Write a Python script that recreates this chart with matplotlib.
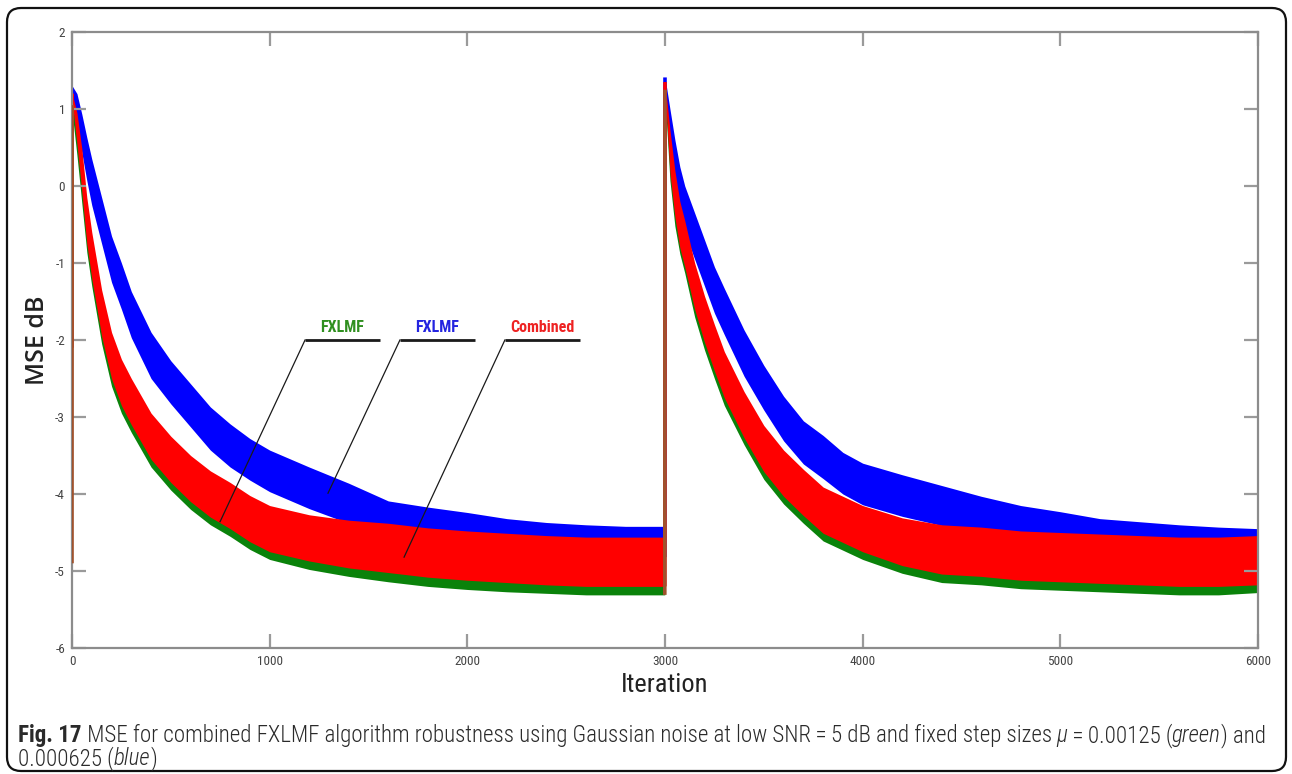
import matplotlib
matplotlib.use('Agg')
import matplotlib.pyplot as plt
import numpy as np
from matplotlib.patches import FancyBboxPatch
from matplotlib.transforms import IdentityTransform
from matplotlib import font_manager

# ---------------- data ----------------
ITERATIONS = [0, 1, 25, 50, 75, 100, 150, 200, 250, 300, 400, 500, 600, 700, 800, 900,
              1000, 1200, 1400, 1600, 1800, 2000, 2200, 2400, 2600, 2800, 2999,
              3000, 3025, 3050, 3075, 3100, 3150, 3200, 3250, 3300, 3400, 3500, 3600,
              3700, 3800, 3900, 4000, 4200, 4400, 4600, 4800, 5000, 5200, 5400, 5600,
              5800, 6000]

BLUE_MSE = [1.28, 1.25, 1.0, 0.68, 0.35, 0.05, -0.45, -0.95, -1.3, -1.67, -2.2, -2.55,
            -2.85, -3.15, -3.37, -3.55, -3.7, -3.92, -4.12, -4.33, -4.4, -4.46, -4.52,
            -4.57, -4.6, -4.62, -4.62,
            1.36, 0.7, 0.3, -0.05, -0.3, -0.65, -1.0, -1.35, -1.63, -2.17, -2.62, -3.02,
            -3.33, -3.52, -3.73, -3.87, -4.02, -4.15, -4.27, -4.38, -4.45, -4.52, -4.56,
            -4.6, -4.63, -4.65]
BLUE_SPREAD = [0.03, 0.05, 0.2, 0.25, 0.28, 0.3, 0.3, 0.3, 0.3, 0.3, 0.3, 0.28, 0.28,
               0.28, 0.28, 0.27, 0.27, 0.27, 0.26, 0.24, 0.23, 0.22, 0.2, 0.2, 0.2, 0.2,
               0.2,
               0.05, 0.3, 0.3, 0.3, 0.3, 0.3, 0.3, 0.3, 0.3, 0.3, 0.29, 0.29, 0.28, 0.28,
               0.27, 0.27, 0.27, 0.26, 0.24, 0.23, 0.22, 0.2, 0.2, 0.2, 0.2, 0.2]

GREEN_MSE = [-4.9, 1.0, 0.6, 0.05, -0.56, -1.0, -1.75, -2.3, -2.65, -2.9, -3.35, -3.65,
             -3.9, -4.1, -4.25, -4.42, -4.55, -4.68, -4.76, -4.82, -4.88, -4.92, -4.95,
             -4.97, -4.99, -4.99, -4.99,
             1.2, 0.35, -0.22, -0.58, -0.83, -1.4, -1.83, -2.2, -2.55, -3.06, -3.51,
             -3.83, -4.08, -4.31, -4.43, -4.55, -4.72, -4.83, -4.86, -4.91, -4.93, -4.95,
             -4.97, -4.99, -4.99, -4.96]
GREEN_SPREAD = [0.0, 0.05, 0.2, 0.28, 0.3, 0.3, 0.3, 0.3, 0.3, 0.3, 0.3, 0.3, 0.3, 0.3,
                0.3, 0.3, 0.3, 0.3, 0.31, 0.32, 0.32, 0.32, 0.32, 0.32, 0.32, 0.32, 0.32,
                0.05, 0.28, 0.3, 0.3, 0.3, 0.3, 0.3, 0.3, 0.3, 0.3, 0.3, 0.3, 0.3, 0.3,
                0.3, 0.3, 0.31, 0.32, 0.32, 0.32, 0.32, 0.32, 0.32, 0.32, 0.32, 0.32]

RED_MSE = [-2.1, 1.15, 0.75, 0.2, -0.45, -0.9, -1.65, -2.2, -2.55, -2.8, -3.25, -3.55,
           -3.8, -4.0, -4.15, -4.32, -4.45, -4.57, -4.65, -4.7, -4.76, -4.8, -4.83,
           -4.86, -4.88, -4.88, -4.88,
           1.3, 0.45, -0.1, -0.5, -0.75, -1.3, -1.73, -2.1, -2.45, -2.97, -3.41, -3.73,
           -3.98, -4.21, -4.33, -4.45, -4.62, -4.72, -4.75, -4.8, -4.82, -4.84, -4.86,
           -4.88, -4.88, -4.86]
RED_SPREAD = GREEN_SPREAD

X_TICKS = [0, 1000, 2000, 3000, 4000, 5000, 6000]
Y_TICKS = [-6, -5, -4, -3, -2, -1, 0, 1, 2]

LABELS = ['FXLMF', 'FXLMF', 'Combined']

# ---------------- styling ----------------
plt.rcParams['axes.unicode_minus'] = False
W, H = 1292, 774
fig = plt.figure(figsize=(W / 100, H / 100), dpi=100)
fig.patch.set_facecolor('white')

names = {f.name for f in font_manager.fontManager.ttflist}
NARROW = 'DejaVu Sans'
for cand in ['Roboto Condensed', 'Liberation Sans Narrow', 'Archivo Narrow',
             'Barlow Condensed', 'DejaVu Sans Condensed']:
    if cand in names:
        NARROW = cand
        break

ax = fig.add_axes([72 / W, 1 - 648 / H, 1186 / W, 616 / H])

C_BLUE = '#0000ff'
C_RED = '#ff0000'
C_GREEN = '#0a820a'
C_BROWN = '#a0522d'

x = np.array(ITERATIONS, dtype=float)
series = [
    (np.array(BLUE_MSE), np.array(BLUE_SPREAD), C_BLUE, C_BLUE, 2),
    (np.array(GREEN_MSE), np.array(GREEN_SPREAD), C_GREEN, C_BROWN, 3),
    (np.array(RED_MSE), np.array(RED_SPREAD), C_RED, C_RED, 2.5),
]
for i, (m, s, col, jcol, jz) in enumerate(series):
    ax.fill_between(x, m - s, m + s, color=col, lw=0, zorder=1 + i * 0.1)
for i, (m, s, col, jcol, jz) in enumerate(series):
    idx = np.where(np.diff(m) > 2.0)[0]
    for k in idx:
        ax.plot([x[k], x[k + 1]], [m[k] - s[k], m[k + 1] + s[k + 1]], color=jcol,
                lw=2.6, zorder=jz, solid_capstyle='butt')

ax.set_xlim(0, 6000)
ax.set_ylim(-6, 2)
ax.set_xticks(X_TICKS)
ax.set_yticks(Y_TICKS)
ax.tick_params(direction='in', length=10, width=1.6, color='#9a9a9a',
               top=True, right=True, labelsize=9.5, labelcolor='#444444', pad=5)
for lab in ax.get_xticklabels() + ax.get_yticklabels():
    lab.set_family(NARROW)
for sp in ax.spines.values():
    sp.set_color('#8c8c8c')
    sp.set_linewidth(1.6)

ax.set_xlabel('Iteration', fontsize=19, family=NARROW, color='#222222', labelpad=4)
ax.set_ylabel('MSE dB', fontsize=18, family='Open Sans', fontweight='semibold',
              color='#222222', labelpad=4)

ann = [
    (LABELS[0], (1179, 1558), (749, -4.36), '#2f8f1f'),
    (LABELS[1], (1659, 2039), (1295, -3.99), '#2424e0'),
    (LABELS[2], (2190, 2570), (1680, -4.82), '#ee2222'),
]
for text, (x0, x1), (ex, ey), col in ann:
    ax.plot([x0, x1], [-2.0, -2.0], color='#1a1a1a', lw=2.0, zorder=6,
            solid_capstyle='butt')
    ax.plot([x0, ex], [-2.0, ey], color='#1a1a1a', lw=0.9, zorder=6)
    ax.text((x0 + x1) / 2, -1.94, text, color=col, fontweight='bold',
            family=NARROW, fontsize=11.5, ha='center', va='bottom', zorder=6)

frame = FancyBboxPatch((7, 3), 1279, 763, boxstyle='round,pad=0,rounding_size=14',
                       transform=IdentityTransform(), facecolor='none',
                       edgecolor='#111111', lw=1.6)
fig.patches.append(frame)

renderer = fig.canvas.get_renderer()


def draw_line(pieces, x0, y0, size):
    xs = x0
    arts = []
    for txt, style, weight in pieces:
        t = fig.text(xs / W, y0, txt, fontsize=size, family=NARROW, style=style,
                     fontweight=weight, color='#2a2a2a', va='baseline', ha='left')
        bb = t.get_window_extent(renderer)
        xs = bb.x1
        arts.append(t)
    return arts, xs


line1 = [('Fig. 17', 'normal', 'bold'),
         (' MSE for combined FXLMF algorithm robustness using Gaussian noise at low SNR\u2009=\u20095 dB and fixed step sizes ', 'normal', 'light'),
         ('\u03bc', 'italic', 'light'),
         ('\u2009=\u20090.00125 (', 'normal', 'light'),
         ('green', 'italic', 'light'),
         (') and', 'normal', 'light')]
line2 = [('0.000625 (', 'normal', 'light'),
         ('blue', 'italic', 'light'),
         (')', 'normal', 'light')]

size = 13
arts, xend = draw_line(line1, 18, 1 - 742 / H, size)
scale = (1264 - 18) / (xend - 18)
for a in arts:
    a.remove()
size = size * scale
draw_line(line1, 18, 1 - 742 / H, size)
draw_line(line2, 18, 1 - 765 / H, size)

fig.savefig('out.png', dpi=100)
